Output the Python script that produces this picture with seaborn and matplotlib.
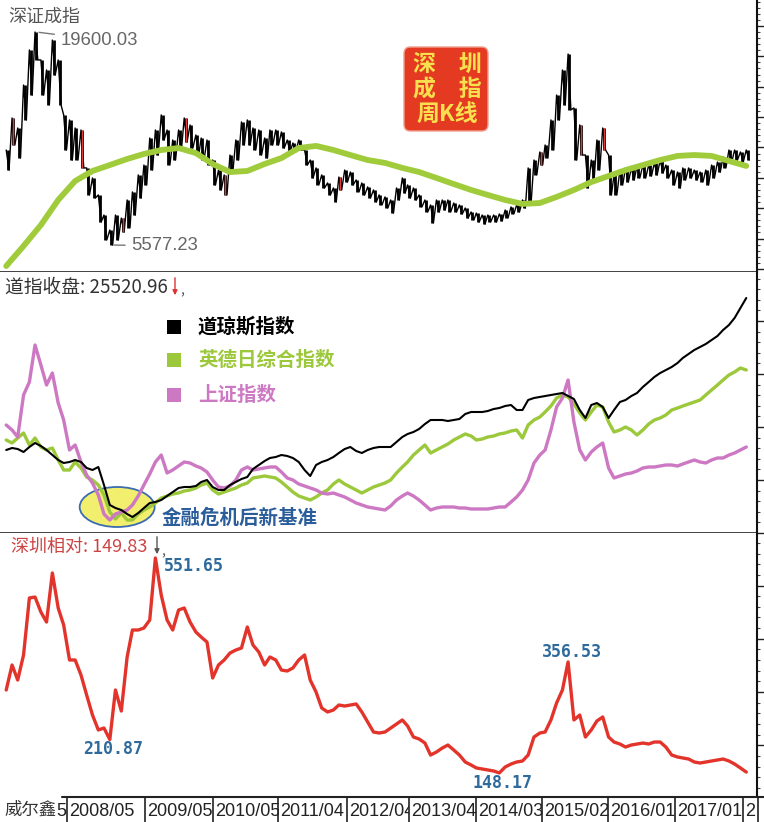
import matplotlib
matplotlib.use("Agg")
import numpy as np
import pandas as pd
import matplotlib.pyplot as plt
import matplotlib.dates as mdates
from matplotlib.patches import Ellipse, FancyBboxPatch, Rectangle
from matplotlib.ticker import MultipleLocator
import seaborn as sns

sns.set_theme(style="white")
plt.rcParams["font.family"] = ["Noto Sans CJK SC", "DejaVu Sans"]
plt.rcParams["axes.unicode_minus"] = False

# ---- 資料 (月資料, 2007/05 ~ 2018/02) ----
months = pd.date_range("2007-05-01", periods=130, freq="MS")

# 深證成指 月內高低點
sz_high = [11830, 13940, 13280, 16110, 18420, 19600, 17760, 17100, 19070, 17760,
           14140, 13810, 13280, 13150, 10650, 9990, 8870, 7550, 6560, 7550,
           7350, 8540, 9070, 10190, 10840, 12620, 13150, 14140, 13150, 12490,
           13150, 13940, 13480, 12820, 12620, 12490, 11170, 10510, 10190, 11500,
           12490, 13680, 13810, 13280, 13150, 12620, 13150, 13150, 13020, 12490,
           12290, 12490, 11830, 11170, 10650, 10190, 9660, 9330, 10050, 10510,
           10380, 9860, 9660, 9400, 9200, 8870, 8740, 8540, 9330, 9990,
           9530, 9330, 8870, 8540, 8210, 8540, 8540, 8540, 8340, 8210,
           8010, 7750, 7680, 7550, 7550, 7550, 7620, 7880, 8080, 8210,
           8540, 10650, 11170, 11700, 12160, 13810, 15450, 17100, 18150, 14600,
           13480, 11500, 11170, 12490, 13280, 11500, 10190, 10510, 10650, 10650,
           10780, 10840, 10840, 10980, 11170, 10840, 10510, 10380, 10650, 10650,
           10510, 10380, 10510, 10840, 11040, 11370, 11830, 11830, 11700, 11830]
sz_low = [10510, 12160, 11300, 13810, 15450, 17760, 15450, 14800, 16770, 14800,
          11830, 11170, 11170, 10650, 8870, 8670, 7090, 5910, 5577.23, 5910,
          6430, 6700, 7550, 8670, 9530, 10510, 11500, 12490, 10840, 11170,
          11830, 12360, 11960, 11500, 11170, 10840, 9530, 9200, 8870, 10380,
          11170, 12160, 12160, 11830, 11500, 11300, 12160, 12160, 11960, 11700,
          11700, 11830, 10840, 9990, 9530, 9330, 8870, 8410, 9200, 9720,
          9530, 9070, 8870, 8670, 8410, 8210, 8010, 7680, 8540, 9000,
          8670, 8540, 8080, 7750, 7030, 7750, 7880, 7750, 7750, 7620,
          7350, 7220, 7090, 6960, 7090, 7090, 7160, 7350, 7620, 7750,
          8010, 8210, 10190, 10840, 11300, 11830, 13810, 14800, 14470, 11170,
          11500, 9330, 9860, 10510, 11830, 8870, 8870, 9530, 9720, 9860,
          9990, 9990, 10120, 10190, 10320, 9990, 9530, 9330, 9860, 9990,
          9860, 9720, 9530, 9990, 10380, 10650, 11040, 11170, 11040, 11170]
red_bars = [1, 13, 20, 31, 38, 58, 93, 100, 104]
# 長期均線 (每季)
sz_ma = [4190, 5510, 6890, 8540, 9790, 10450, 10840, 11240, 11570, 11830,
         11960, 11630, 10910, 10380, 10450, 10910, 11300, 11960, 12100, 11830,
         11500, 11170, 10980, 10650, 10380, 9990, 9590, 9200, 8870, 8540,
         8280, 8340, 8740, 9200, 9720, 10120, 10510, 10840, 11170, 11440,
         11500, 11440, 11110, 10780]

# 中圖: 三條走勢 (相對位置)
dow = [83, 85, 84, 81, 86, 90, 87, 83, 78, 73,
       70, 71, 73, 71, 65, 63, 66, 48, 28, 25,
       23, 19, 16, 20, 25, 30, 31, 33, 37, 41,
       45, 46, 46, 47, 51, 53, 46, 43, 43, 48,
       51, 54, 56, 64, 68, 72, 75, 76, 78, 77,
       75, 71, 63, 57, 68, 71, 73, 76, 80, 84,
       86, 82, 80, 83, 85, 86, 86, 86, 91, 96,
       99, 101, 104, 109, 113, 113, 113, 112, 113, 114,
       119, 121, 121, 121, 122, 124, 125, 127, 128, 123,
       123, 133, 135, 136, 137, 138, 139, 140, 137, 134,
       123, 115, 128, 130, 126, 115, 123, 131, 133, 137,
       140, 146, 151, 156, 160, 163, 166, 170, 175, 179,
       183, 186, 189, 193, 197, 203, 208, 215, 225, 235]
mix = [93, 90, 95, 100, 88, 95, 86, 83, 85, 73,
       63, 63, 71, 65, 56, 53, 48, 38, 21, 14,
       20, 13, 13, 19, 23, 26, 30, 35, 37, 39,
       40, 42, 43, 45, 48, 50, 43, 39, 41, 43,
       45, 48, 50, 55, 56, 57, 56, 55, 51, 46,
       41, 37, 35, 33, 36, 40, 43, 49, 53, 49,
       46, 43, 40, 43, 46, 48, 50, 53, 60, 66,
       71, 78, 83, 88, 80, 83, 86, 89, 93, 96,
       99, 97, 93, 94, 96, 97, 99, 100, 102, 103,
       95, 108, 113, 116, 121, 127, 135, 138, 136, 129,
       120, 113, 121, 128, 126, 111, 101, 103, 106, 103,
       98, 103, 109, 113, 115, 118, 123, 125, 127, 129,
       131, 133, 138, 143, 148, 153, 158, 161, 165, 163]
shci = [108, 103, 96, 138, 151, 188, 168, 148, 160, 130,
        113, 83, 88, 71, 58, 50, 38, 19, 13, 19,
        21, 23, 28, 37, 48, 59, 71, 78, 60, 63,
        67, 71, 70, 67, 65, 61, 53, 46, 45, 47,
        53, 63, 66, 63, 64, 65, 66, 66, 61, 55,
        53, 49, 47, 45, 43, 40, 39, 40, 38, 36,
        33, 30, 28, 26, 25, 24, 23, 27, 33, 37,
        40, 37, 33, 28, 23, 25, 26, 26, 26, 25,
        25, 24, 24, 24, 24, 25, 26, 26, 31, 36,
        43, 53, 70, 78, 83, 103, 126, 135, 153, 111,
        83, 73, 81, 86, 90, 65, 55, 57, 59, 60,
        62, 65, 66, 66, 67, 68, 68, 67, 69, 71,
        73, 71, 70, 73, 75, 75, 78, 80, 83, 86]

# 下圖: 深圳相對
rel = [303.9, 350.8, 322.6, 369.6, 476.6, 478.4, 450.3, 431.5, 523.5, 457.8,
       425.9, 360.2, 360.2, 332.0, 294.5, 256.9, 228.8, 232.5, 210.87, 303.9,
       264.4, 365.8, 416.5, 416.5, 420.2, 435.3, 551.65, 482.2, 435.3, 416.5,
       454.0, 457.8, 431.5, 412.7, 403.3, 393.9, 326.4, 350.8, 360.2, 373.3,
       378.9, 382.7, 422.1, 388.3, 375.2, 350.8, 365.8, 360.2, 341.4, 339.5,
       345.2, 360.2, 369.6, 322.6, 300.1, 270.1, 262.6, 266.3, 275.7, 273.8,
       275.7, 277.6, 262.6, 243.8, 225.0, 223.1, 225.0, 232.5, 240.0, 247.6,
       236.3, 215.6, 211.9, 204.3, 181.8, 187.4, 194.9, 200.6, 191.2, 181.8,
       168.7, 163.1, 157.5, 155.6, 153.7, 151.8, 148.17, 159.3, 164.9, 168.7,
       170.6, 181.8, 215.6, 223.1, 225.0, 247.6, 279.5, 303.9, 356.53, 247.6,
       256.9, 215.6, 228.8, 245.7, 253.2, 215.6, 206.2, 202.5, 196.8, 200.6,
       202.5, 204.3, 202.5, 206.2, 206.2, 196.8, 181.8, 178.1, 176.2, 174.3,
       168.7, 166.8, 168.7, 170.6, 172.4, 174.3, 170.6, 164.9, 157.5, 149.83]

# 底部日期列 (分隔線位置與標籤)
tick_dates = pd.to_datetime(["2008-03-19", "2009-05-08", "2010-05-04", "2011-04-15",
                             "2012-04-15", "2013-03-08", "2014-02-28", "2015-02-14",
                             "2016-01-30", "2017-01-20", "2018-01-16", "2018-04-05"])
tick_labels = ["2008/05", "2009/05", "2010/05", "2011/04", "2012/04", "2013/04",
               "2014/03", "2015/02", "2016/01", "2017/01", "2", ""]

# ---- 版面 ----
W, H = 764, 822
fig = plt.figure(figsize=(W / 100, H / 100), dpi=100)
fig.patch.set_facecolor("white")


def box(x0, y0, x1, y1):
    return [x0 / W, 1 - y1 / H, (x1 - x0) / W, (y1 - y0) / H]


def fx(x):
    return x / W


def fy(y):
    return 1 - y / H


ax1 = fig.add_axes(box(0, 0, 757, 272))
ax2 = fig.add_axes(box(0, 272, 757, 533))
ax3 = fig.add_axes(box(0, 533, 757, 797))
axs = fig.add_axes(box(62, 797, 764, 822))

x_start, x_end = pd.Timestamp("2007-03-29"), pd.Timestamp("2018-03-30")

# 上圖 周K線 + 均線
hi = np.array(sz_high)
lo = np.array(sz_low)
half = pd.Timedelta(days=15)
zz_x = np.empty(2 * len(months), dtype="datetime64[ns]")
zz_x[0::2] = months.values
zz_x[1::2] = (months + half).values
zz_y = np.empty(2 * len(months))
zz_y[0::2] = hi
zz_y[1::2] = lo
ax1.plot(zz_x, zz_y, color="black", lw=1.0, zorder=2)
ax1.vlines(months + pd.Timedelta(days=7), lo, hi, color="black", lw=2.0, zorder=2)
ax1.vlines(months[red_bars] + pd.Timedelta(days=7), lo[red_bars], hi[red_bars],
           color="#e03a3a", lw=1.0, zorder=3)
sns.lineplot(x=months[::3], y=sz_ma, ax=ax1, color="#a0cc3c", lw=4.2, zorder=4)

# 中圖
sns.lineplot(x=months, y=mix, ax=ax2, color="#9cc83b", lw=2.4, zorder=3)
sns.lineplot(x=months, y=shci, ax=ax2, color="#cc78c2", lw=2.4, zorder=4)
sns.lineplot(x=months, y=dow, ax=ax2, color="black", lw=1.5, zorder=5)
ax2.add_patch(Ellipse((mdates.date2num(pd.Timestamp("2008-12-10")), 26), width=398, height=40,
                      fc="#f2ee6e", ec="#3b6cb0", lw=1.3, zorder=1))

# 下圖
sns.lineplot(x=months, y=rel, ax=ax3, color="#e3342c", lw=2.4, zorder=3)

for ax, ylim, major in [(ax1, (3798, 21707), 2000), (ax2, (0, 261), 53), (ax3, (103.0, 598.6), 100)]:
    ax.set_facecolor("white")
    ax.set_xlim(x_start, x_end)
    ax.set_ylim(*ylim)
    ax.set_xticks([])
    ax.set_xlabel("")
    ax.set_ylabel("")
    ax.yaxis.tick_right()
    ax.yaxis.set_major_locator(MultipleLocator(major))
    ax.yaxis.set_minor_locator(MultipleLocator(major / 5))
    ax.tick_params(axis="y", which="major", right=True, length=7, width=1, color="#222", labelright=False)
    ax.tick_params(axis="y", which="minor", right=True, length=2.5, width=0.8, color="#444")
    ax.spines["left"].set_visible(False)
    ax.spines["top"].set_visible(False)
    ax.spines["right"].set_color("#111")
    ax.spines["right"].set_linewidth(1.5)
    ax.spines["bottom"].set_color("#333")
    ax.spines["bottom"].set_linewidth(1.3)
ax3.spines["bottom"].set_visible(False)

# 上圖文字
fig.text(fx(8), fy(17), "深证成指", fontsize=13, color="#555555", va="center")
gray_kw = dict(textcoords="offset pixels", fontsize=13.3, color="#666666", family="Liberation Sans",
               ha="left", va="center", arrowprops=dict(arrowstyle="-", color="#777777", lw=1))
ax1.annotate("19600.03", xy=(months[5] + pd.Timedelta(days=7), 19600), xytext=(24, -8), **gray_kw)
ax1.annotate("5577.23", xy=(months[18] + pd.Timedelta(days=7), 5577.23), xytext=(20, -1), **gray_kw)

fig.add_artist(FancyBboxPatch((fx(404), fy(131)), fx(84), 84 / H,
                              boxstyle="round,pad=0,rounding_size=0.008",
                              transform=fig.transFigure, fc="#e53a22", ec="#f0a090", lw=1))
for yy, s in [(65, "深　圳"), (90, "成　指"), (114, "周K线")]:
    fig.text(fx(447), fy(yy), s, fontsize=16.5, fontweight="bold", color="#f8e04e",
             ha="center", va="center")

# 中圖文字
fig.text(fx(5), fy(287), "道指收盘: 25520.96", fontsize=13.5, color="#333333", va="center")
ax2.annotate("", xy=(175, H - 298), xycoords="figure pixels", xytext=(175, H - 275),
             textcoords="figure pixels",
             arrowprops=dict(arrowstyle="-|>", color="#dd3333", lw=1, mutation_scale=7))
fig.text(fx(180), fy(290), ",", fontsize=10, color="#555555", va="center")

legend_items = [("道琼斯指数", "black", 327), ("英德日综合指数", "#9cc83b", 360), ("上证指数", "#cc78c2", 395)]
for name, col, yy in legend_items:
    fig.add_artist(Rectangle((fx(167), fy(yy + 7)), 14 / W, 14 / H, transform=fig.transFigure,
                             fc=col, ec="none"))
    fig.text(fx(198), fy(yy), name, fontsize=14, fontweight="bold", color=col, va="center")

fig.text(fx(162), fy(518), "金融危机后新基准", fontsize=14, fontweight="bold", color="#2b5d9b", va="center")

# 下圖文字
fig.text(fx(11), fy(547), "深圳相对: 149.83", fontsize=13, color="#cc4444", va="center")
ax3.annotate("", xy=(157, H - 557), xycoords="figure pixels", xytext=(157, H - 534),
             textcoords="figure pixels",
             arrowprops=dict(arrowstyle="-|>", color="#555555", lw=1, mutation_scale=7))
fig.text(fx(161), fy(551), ",", fontsize=10, color="#555555", va="center")

blue_kw = dict(textcoords="offset pixels", fontsize=12, fontweight="bold", color="#2e6a9c",
               family="DejaVu Sans Mono", va="center")
ax3.annotate("551.65", xy=(months[26], rel[26]), xytext=(8, -8), ha="left", **blue_kw)
ax3.annotate("210.87", xy=(months[18], rel[18]), xytext=(3, -9), ha="center", **blue_kw)
ax3.annotate("148.17", xy=(months[86], rel[86]), xytext=(3, -10), ha="center", **blue_kw)
ax3.annotate("356.53", xy=(months[98], rel[98]), xytext=(4, 10), ha="center", **blue_kw)

# 底部日期列
n0, n1 = mdates.date2num(x_start), mdates.date2num(x_end)
ppd = 757 / (n1 - n0)
axs.set_xlim(x_start + pd.Timedelta(days=62 / ppd), x_start + pd.Timedelta(days=764 / ppd))
axs.set_ylim(0, 1)
axs.set_xticks([])
axs.set_yticks([])
for s in ("left", "right", "bottom", "top"):
    axs.spines[s].set_visible(False)
axs.axhline(1, color="#222222", lw=1.5, zorder=50, clip_on=False)
for i, (d, lab) in enumerate(zip(tick_dates, tick_labels)):
    axs.text(mdates.date2num(d + pd.Timedelta(days=10)), 0.44, lab, transform=axs.get_xaxis_transform(),
             ha="left", va="center", fontsize=13, family="Liberation Sans", color="#222222",
             bbox=dict(fc="white", ec="none", pad=1), zorder=3 + i, clip_on=True)
axs.text(mdates.date2num(tick_dates[0] - pd.Timedelta(days=4)), 0.44, "5",
         transform=axs.get_xaxis_transform(), ha="right", va="center", fontsize=13,
         family="Liberation Sans", color="#222222")
axs.vlines(tick_dates, 0, 1, transform=axs.get_xaxis_transform(), color="#222222", lw=1.2, zorder=40)
fig.text(fx(4), fy(810), "威尔鑫", fontsize=12.5, color="#333333", va="center")

fig.savefig("out.png", dpi=100)
